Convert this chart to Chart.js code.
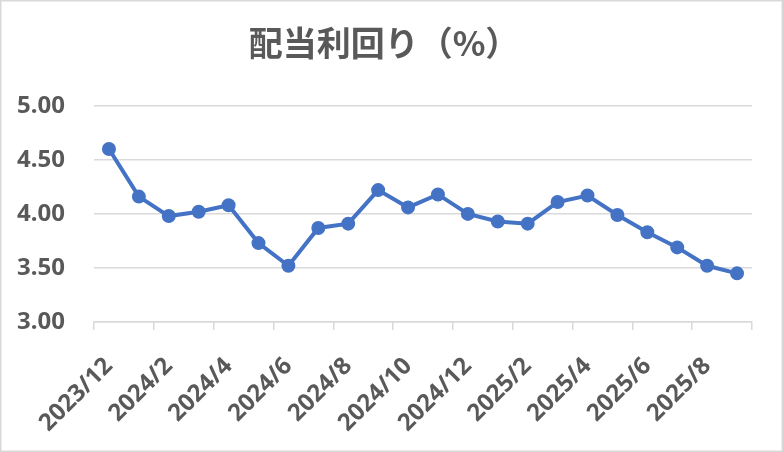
<!DOCTYPE html>
<html>
<head>
<meta charset="utf-8">
<script src="https://cdn.jsdelivr.net/npm/chart.js@4"></script>
<style>
  html, body { margin: 0; padding: 0; background: #fff; }
  #wrap { width: 783px; height: 452px; position: relative; }
</style>
</head>
<body>
<div id="wrap"><canvas id="canvasYield"></canvas></div>
<script>
// 月次の配当利回り（%）
var meses = ['2023/12','2024/1','2024/2','2024/3','2024/4','2024/5','2024/6','2024/7','2024/8','2024/9','2024/10','2024/11',
             '2024/12','2025/1','2025/2','2025/3','2025/4','2025/5','2025/6','2025/7','2025/8','2025/9'];
var rendimiento = [4.60, 4.16, 3.98, 4.02, 4.08, 3.73, 3.52, 3.87, 3.91, 4.22, 4.06, 4.18,
                   4.00, 3.93, 3.91, 4.11, 4.17, 3.99, 3.83, 3.69, 3.52, 3.45];
var yTicks = [3.00, 3.50, 4.00, 4.50, 5.00];

var gris = '#595959';
var lineaGris = '#d9d9d9';
var azul = '#4472C4';

// marco exterior del grafico
var marco = {
	id: 'marco',
	afterDraw: function(chart){
		var ctx = chart.ctx;
		ctx.save();
		ctx.strokeStyle = lineaGris;
		ctx.lineWidth = 1.5;
		ctx.strokeRect(0.75, 0.75, chart.width - 1.5, chart.height - 1.5);
		ctx.restore();
	}
};

var ctx = document.getElementById('canvasYield').getContext('2d');
window.myLine = new Chart(ctx, {
	type: 'line',
	data: {
		labels: meses,
		datasets: [{
			label: '配当利回り',
			data: rendimiento,
			borderColor: azul,
			backgroundColor: azul,
			borderWidth: 4,
			pointRadius: 5,
			pointHoverRadius: 5,
			pointBackgroundColor: azul,
			pointBorderColor: azul,
			tension: 0
		}]
	},
	options: {
		responsive: true,
		maintainAspectRatio: false,
		animation: false,
		layout: {
			padding: { left: 16, right: 31, top: 0, bottom: 0 }
		},
		plugins: {
			legend: { display: false },
			tooltip: { enabled: false },
			title: {
				display: true,
				text: '配当利回り（%）',
				color: gris,
				font: { family: '"Noto Sans CJK JP", sans-serif', size: 34, weight: 'bold' },
				padding: { top: 23, bottom: 42 }
			}
		},
		scales: {
			x: {
				offset: true,
				afterFit: function(scale){
					scale.paddingLeft = 0;
					scale.paddingRight = 0;
					scale.height = 130;
				},
				grid: {
					offset: true,
					drawOnChartArea: false,
					drawTicks: true,
					tickLength: 8,
					lineWidth: 1.5,
					// solo una marca cada dos meses
					color: function(c){
						return (c.index === undefined || c.index % 2 === 0) ? lineaGris : 'rgba(0,0,0,0)';
					}
				},
				border: { display: true, color: lineaGris, width: 1.5 },
				ticks: {
					autoSkip: false,
					minRotation: 45,
					maxRotation: 45,
					padding: 22,
					color: gris,
					font: { family: '"Noto Sans", sans-serif', size: 24, weight: 'bold' },
					callback: function(value, index){
						return index % 2 === 0 ? meses[index] : '';
					}
				}
			},
			y: {
				min: yTicks[0],
				max: yTicks[yTicks.length - 1],
				afterBuildTicks: function(axis){
					axis.ticks = yTicks.map(function(v){ return { value: v }; });
				},
				afterFit: function(scale){
					scale.width = 78;
				},
				grid: {
					drawTicks: false,
					color: lineaGris,
					lineWidth: 1.5
				},
				border: { display: false },
				ticks: {
					padding: 29,
					color: gris,
					font: { family: '"Noto Sans", sans-serif', size: 24, weight: 'bold' },
					callback: function(value){ return Number(value).toFixed(2); }
				}
			}
		}
	},
	plugins: [marco]
});
</script>
</body>
</html>
